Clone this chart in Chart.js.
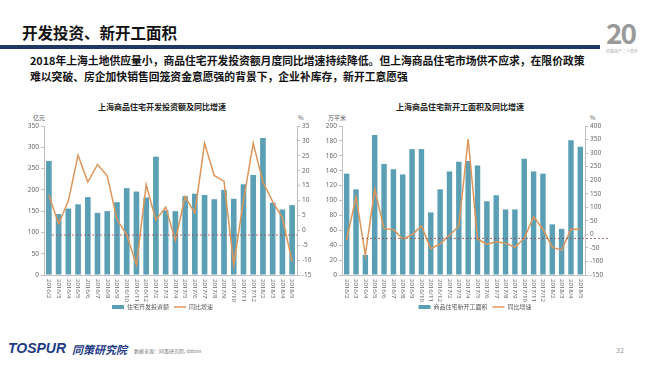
<!DOCTYPE html>
<html>
<head>
<meta charset="utf-8">
<script src="https://cdn.jsdelivr.net/npm/chart.js@4"></script>
<style>
  body { margin: 0; background: #fff; }
  #page { position: relative; width: 650px; height: 365px; overflow: hidden; font-family: "Noto Sans CJK SC", "Noto Sans", sans-serif; }
  .txt { position: absolute; white-space: nowrap; }
  canvas { position: absolute; }
</style>
</head>
<body>
<div id="page">
  <div class="txt" style="left:22px;top:21px;font-size:15.5px;font-weight:bold;color:#111;">开发投资、新开工面积</div>
  <div style="position:absolute;left:0;top:45px;width:600px;height:4px;background:#1f3864;"></div>
  <div class="txt" style="left:606px;top:12px;font-size:28px;font-weight:bold;color:#9a9a9a;letter-spacing:-2px;">20</div>
  <div class="txt" style="left:606px;top:48px;font-size:4px;color:#aaa;">同策房产二十周年</div>
  <div class="txt" style="left:30px;top:52px;font-size:10.8px;font-weight:bold;color:#111;line-height:16px;">2018年上海土地供应量小，商品住宅开发投资额月度同比增速持续降低。但上海商品住宅市场供不应求，在限价政策<br>难以突破、房企加快销售回笼资金意愿强的背景下，企业补库存，新开工意愿强</div>

  <div class="txt" style="left:98px;top:101px;font-size:8px;font-weight:bold;color:#222;">上海商品住宅开发投资额及同比增速</div>
  <div class="txt" style="left:396px;top:101px;font-size:8px;font-weight:bold;color:#222;">上海商品住宅新开工面积及同比增速</div>
  <div class="txt" style="left:33px;top:113px;font-size:6px;color:#555;">亿元</div>
  <div class="txt" style="left:298px;top:113px;font-size:6px;color:#555;">%</div>
  <div class="txt" style="left:328px;top:113px;font-size:6px;color:#555;">万平米</div>
  <div class="txt" style="left:590px;top:113px;font-size:6px;color:#555;">%</div>

  <canvas id="investChart" width="325" height="215" style="left:0;top:110px;"></canvas>
  <canvas id="startsChart" width="330" height="215" style="left:310px;top:110px;"></canvas>

  <div class="txt" style="left:8px;top:340px;font-size:14px;font-weight:bold;font-style:italic;color:#1f3c88;font-family:'Liberation Sans',sans-serif;">TOSPUR</div>
  <div class="txt" style="left:72px;top:341px;font-size:11px;font-weight:bold;font-style:italic;color:#1f3c88;">同策研究院</div>
  <div class="txt" style="left:134px;top:347px;font-size:5px;color:#777;">数据来源：同策研究院, datain</div>
  <div class="txt" style="left:616px;top:345px;font-size:7px;color:#999;">32</div>
</div>

<script>
// Categories (months)
const months = ['2016/2', '2016/3', '2016/4', '2016/5', '2016/6', '2016/7', '2016/8', '2016/9', '2016/10', '2016/11', '2016/12',
  '2017/2', '2017/3', '2017/4', '2017/5', '2017/6', '2017/7', '2017/8', '2017/9', '2017/10', '2017/11', '2017/12',
  '2018/2', '2018/3', '2018/4', '2018/5'];

// Left chart: investment (亿元) and yoy growth (%)
const investValues = [268, 143, 156, 166, 183, 146, 150, 171, 204, 196, 182,
  278, 152, 150, 185, 191, 188, 178, 200, 179, 213, 235,
  322, 170, 154, 164];
const investGrowth = [11.8, 2.2, 9.8, 25.2, 16.2, 22.1, 18.3, 3.6, -1.5, -11.6, 15.3,
  3.4, 7.8, -3.4, 11.3, 5.8, 29.2, 18.3, 16.5, -11.6, 10, 29.2,
  16.2, 9.6, 4.2, -10.5];
const investTicks = [0, 50, 100, 150, 200, 250, 300, 350];
const investGrowthTicks = [-15, -10, -5, 0, 5, 10, 15, 20, 25, 30, 35];
const investRefLine = -1.6;

// Right chart: new construction area (万平米) and yoy growth (%)
const startsValues = [136, 115, 27, 188, 149, 142, 135, 169, 169, 84, 115,
  139, 152, 153, 147, 99, 107, 88, 88, 156, 139, 136,
  68, 62, 181, 172];
const startsGrowth = [-20, 139, -77, 166, 21, 17, -17, -1, 31, -53, -35,
  -3, 31, 352, -17, -36, -27, -33, -47, -15, 65, 19,
  -47, -59, 19, 19];
const startsTicks = [0, 20, 40, 60, 80, 100, 120, 140, 160, 180, 200];
const startsGrowthTicks = [-150, -100, -50, 0, 50, 100, 150, 200, 250, 300, 350, 400];
const startsRefLine = -15;

const barColor = '#5a9fb4';
const lineColor = '#df9558';
const tickColor = '#666';
const axisColor = '#bfbfbf';

// x labels rotated clockwise, drawn under each category
const verticalLabels = {
  id: 'verticalLabels',
  afterDraw(chart) {
    const xs = chart.scales.x;
    const ctx = chart.ctx;
    ctx.save();
    ctx.font = '6px "Noto Sans"';
    ctx.fillStyle = tickColor;
    ctx.textAlign = 'left';
    ctx.textBaseline = 'middle';
    chart.data.labels.forEach((lab, i) => {
      ctx.save();
      ctx.translate(xs.getPixelForValue(i), xs.top + 4);
      ctx.rotate(Math.PI / 2);
      ctx.fillText(lab, 0, 0);
      ctx.restore();
    });
    ctx.restore();
  }
};

// dashed reference line on the right axis
const refLine = {
  id: 'refLine',
  afterDatasetsDraw(chart, args, opts) {
    const y = chart.scales.y1.getPixelForValue(opts.value);
    const ctx = chart.ctx;
    ctx.save();
    ctx.strokeStyle = '#a04545';
    ctx.lineWidth = 0.8;
    ctx.setLineDash([2, 2]);
    ctx.beginPath();
    ctx.moveTo(chart.chartArea.left + opts.start, y);
    ctx.lineTo(chart.chartArea.right + opts.extend, y);
    ctx.stroke();
    ctx.restore();
  }
};

function makeChart(id, barLabel, bars, growth, leftTicks, rightTicks, ref, leftW, rightW) {
  const tickFont = { size: 6.5, family: '"Noto Sans"' };
  return new Chart(document.getElementById(id), {
    type: 'bar',
    data: {
      labels: months,
      datasets: [
        {
          type: 'bar',
          label: barLabel,
          data: bars,
          backgroundColor: barColor,
          barPercentage: 0.58,
          categoryPercentage: 1.0,
          yAxisID: 'y',
          order: 1,
          pointStyle: 'rect'
        },
        {
          type: 'line',
          label: '同比增速',
          data: growth,
          borderColor: lineColor,
          backgroundColor: lineColor,
          borderWidth: 1.5,
          pointRadius: 0,
          tension: 0,
          yAxisID: 'y1',
          order: 0,
          pointStyle: 'line'
        }
      ]
    },
    options: {
      responsive: false,
      animation: false,
      layout: { padding: { top: 16, bottom: 5, left: 0, right: 0 } },
      plugins: {
        legend: {
          position: 'bottom',
          labels: {
            font: { size: 6, family: '"Noto Sans CJK SC"' },
            color: '#555',
            usePointStyle: true,
            pointStyleWidth: 12,
            boxHeight: 4,
            padding: 5,
            sort: (a, b) => a.datasetIndex - b.datasetIndex
          }
        },
        tooltip: { enabled: false },
        refLine: ref
      },
      scales: {
        x: {
          grid: { display: false },
          border: { color: axisColor },
          ticks: { display: false },
          afterFit: (s) => { s.height = 24; }
        },
        y: {
          position: 'left',
          min: leftTicks[0],
          max: leftTicks[leftTicks.length - 1],
          afterBuildTicks: (s) => { s.ticks = leftTicks.map(v => ({ value: v })); },
          grid: { drawOnChartArea: false, tickLength: 3, color: axisColor },
          border: { color: axisColor },
          ticks: { font: tickFont, color: tickColor, padding: 2 },
          afterFit: (s) => { s.width = leftW; }
        },
        y1: {
          position: 'right',
          min: rightTicks[0],
          max: rightTicks[rightTicks.length - 1],
          afterBuildTicks: (s) => { s.ticks = rightTicks.map(v => ({ value: v })); },
          grid: { drawOnChartArea: false, tickLength: 3, color: axisColor },
          border: { color: axisColor },
          ticks: { font: tickFont, color: tickColor, padding: 2 },
          afterFit: (s) => { s.width = rightW; }
        }
      }
    },
    plugins: [verticalLabels, refLine]
  });
}

makeChart('investChart', '住宅开发投资额', investValues, investGrowth, investTicks, investGrowthTicks,
  { value: investRefLine, start: 8, extend: 0 }, 44, 28);
makeChart('startsChart', '商品住宅新开工面积', startsValues, startsGrowth, startsTicks, startsGrowthTicks,
  { value: startsRefLine, start: 20, extend: 23 }, 32, 55);
</script>
</body>
</html>
